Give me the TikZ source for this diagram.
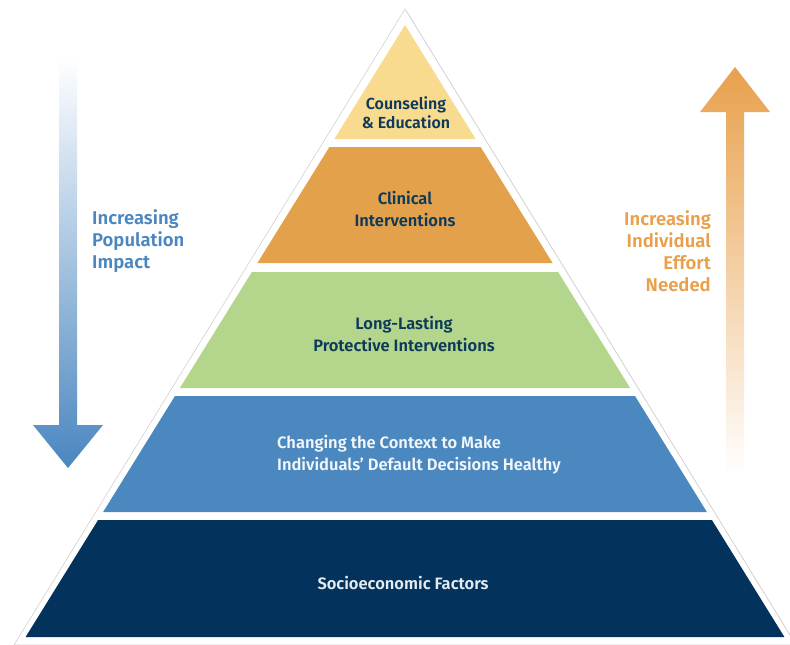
\documentclass[tikz,border=0pt]{standalone}
\usepackage{fontspec}
\setmainfont{Fira Sans}[BoldFont={Fira Sans SemiBold}]
\usepackage{xcolor}
\usepackage{tikz}
\usetikzlibrary{shadows}

\definecolor{tipcol}{HTML}{F8DB8F}
\definecolor{clincol}{HTML}{E3A14C}
\definecolor{greencol}{HTML}{B3D68C}
\definecolor{bluecol}{HTML}{4B88BF}
\definecolor{navycol}{HTML}{03325C}
\definecolor{textnavy}{HTML}{0E3A5A}
\definecolor{arrowblue}{HTML}{4A86C0}
\definecolor{arroworange}{HTML}{E8A04C}

\begin{document}
\begin{tikzpicture}[
        x=1pt, y=-1pt,
        every node/.style={font=\bfseries\fontsize{16.5}{22}\selectfont, align=center, inner sep=0pt},
        sidelabel/.style={font=\bfseries\fontsize{18.5}{22}\selectfont},
    ]
    \useasboundingbox (0,0) rectangle (790,645);
    % white frame round the pyramid
    \filldraw[white, draw=black!18, line width=0.6pt, drop shadow={shadow xshift=1.5pt, shadow yshift=-1.5pt, opacity=0.3}] (405,9) -- (796,645) -- (14,645) -- cycle;
    % layers
    \fill[tipcol] (405,25) -- (475.7,139) -- (334.3,139) -- cycle;
    \fill[clincol] (329.4,147) -- (480.6,147) -- (552.6,263) -- (257.4,263) -- cycle;
    \fill[greencol] (251.9,272) -- (558.1,272) -- (630.1,388) -- (179.9,388) -- cycle;
    \fill[bluecol] (175,396) -- (635,396) -- (706.9,512) -- (103.1,512) -- cycle;
    \fill[navycol] (98.1,520) -- (711.9,520) -- (784.4,637) -- (25.6,637) -- cycle;
    % arrows
    \shade[top color=white, middle color=arrowblue!60, bottom color=arrowblue] (59,58) -- (77,58) -- (77,425) -- (103,425) -- (68,468) -- (33,425) -- (59,425) -- cycle;
    \shade[top color=arroworange, middle color=arroworange!65, bottom color=white] (726,475) -- (726,112) -- (700,112) -- (735,67) -- (770,112) -- (744,112) -- (744,475) -- cycle;
    % texts
    \node[text=textnavy, font=\bfseries\fontsize{16}{19}\selectfont] (n1) at (406,113) {Counseling\\\& Education};
    \node[text=textnavy] (n2) at (405,209) {Clinical\\Interventions};
    \node[text=textnavy] (n3) at (404,334) {Long-Lasting\\Protective Interventions};
    \node[text=white!92!bluecol, align=left, anchor=west] (n4) at (277,455) {Changing the Context to Make\\Individuals' Default Decisions Healthy};
    \node[text=white!90!navycol] (n5) at (403,583) {Socioeconomic Factors};
    \node[sidelabel, text=arrowblue, align=left, anchor=west] (l1) at (92,241) {Increasing\\Population\\Impact};
    \node[sidelabel, text=arroworange, align=right, anchor=east] (l2) at (711,251) {Increasing\\Individual\\Effort\\Needed};
\end{tikzpicture}
\end{document}
